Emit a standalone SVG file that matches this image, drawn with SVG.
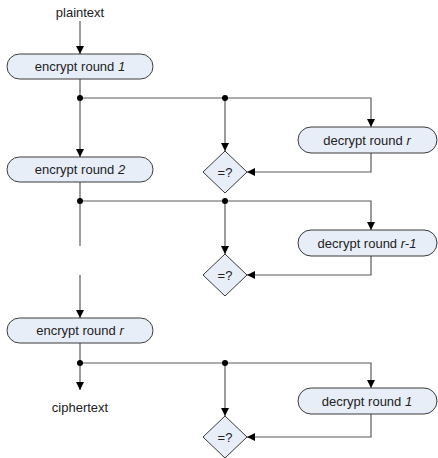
<svg xmlns="http://www.w3.org/2000/svg" width="438" height="458" viewBox="0 0 438 458">
<style>
.box{fill:#e8eef8;stroke:#3a3a3a;stroke-width:1}
.ln{fill:none;stroke:#5a5a5a;stroke-width:1.2}
.dot{fill:#000}
text{font-family:"Liberation Sans",Arial,sans-serif;font-size:13px;fill:#222;text-anchor:middle}
.it{font-style:italic}
</style>
<defs>
<marker id="ah" viewBox="0 0 8 8" refX="8" refY="4" markerWidth="8" markerHeight="8" markerUnits="userSpaceOnUse" orient="auto">
<path d="M0,0 L8,4 L0,8 z" fill="#000"/>
</marker>
</defs>
<g id="connectors">
<path class="ln" d="M80,21 V54" marker-end="url(#ah)"/>
<path class="ln" d="M80,79 V157" marker-end="url(#ah)"/>
<path class="ln" d="M80,98 H371 V127" marker-end="url(#ah)"/>
<path class="ln" d="M225,98 V151" marker-end="url(#ah)"/>
<path class="ln" d="M371,153 V172 H247" marker-end="url(#ah)"/>
<path class="ln" d="M80,182 V246"/>
<path class="ln" d="M80,201 H371 V230" marker-end="url(#ah)"/>
<path class="ln" d="M225,201 V254" marker-end="url(#ah)"/>
<path class="ln" d="M371,256 V275 H247" marker-end="url(#ah)"/>
<path class="ln" d="M80,275 V318" marker-end="url(#ah)"/>
<path class="ln" d="M80,343 V390" marker-end="url(#ah)"/>
<path class="ln" d="M80,363 H371 V388" marker-end="url(#ah)"/>
<path class="ln" d="M225,363 V416" marker-end="url(#ah)"/>
<path class="ln" d="M371,414 V437 H247" marker-end="url(#ah)"/>
<circle class="dot" cx="80" cy="98" r="3"/>
<circle class="dot" cx="225" cy="98" r="3"/>
<circle class="dot" cx="80" cy="201" r="3"/>
<circle class="dot" cx="225" cy="201" r="3"/>
<circle class="dot" cx="80" cy="363" r="3"/>
<circle class="dot" cx="225" cy="363" r="3"/>
</g>
<g id="plaintext"><text x="80" y="17">plaintext</text></g>
<g id="enc1"><rect class="box" x="7" y="54" width="146" height="25" rx="12.5"/><text x="80" y="71">encrypt round <tspan class="it">1</tspan></text></g>
<g id="enc2"><rect class="box" x="7" y="157" width="146" height="25" rx="12.5"/><text x="80" y="174">encrypt round <tspan class="it">2</tspan></text></g>
<g id="encr"><rect class="box" x="7" y="318" width="146" height="25" rx="12.5"/><text x="80" y="335">encrypt round <tspan class="it">r</tspan></text></g>
<g id="ciphertext"><text x="80" y="412">ciphertext</text></g>
<g id="decr"><rect class="box" x="298" y="127" width="139" height="26" rx="13"/><text x="367" y="145">decrypt round <tspan class="it">r</tspan></text></g>
<g id="decr1"><rect class="box" x="298" y="230" width="139" height="26" rx="13"/><text x="367" y="248">decrypt round <tspan class="it">r-1</tspan></text></g>
<g id="dec1"><rect class="box" x="298" y="388" width="139" height="26" rx="13"/><text x="367" y="406">decrypt round <tspan class="it">1</tspan></text></g>
<g id="cmp1"><path class="box" d="M225,151 L247,172 L225,193 L203,172 z"/><text x="225" y="177">=?</text></g>
<g id="cmp2"><path class="box" d="M225,254 L247,275 L225,296 L203,275 z"/><text x="225" y="280">=?</text></g>
<g id="cmp3"><path class="box" d="M225,416 L247,437 L225,458 L203,437 z"/><text x="225" y="442">=?</text></g>
</svg>
